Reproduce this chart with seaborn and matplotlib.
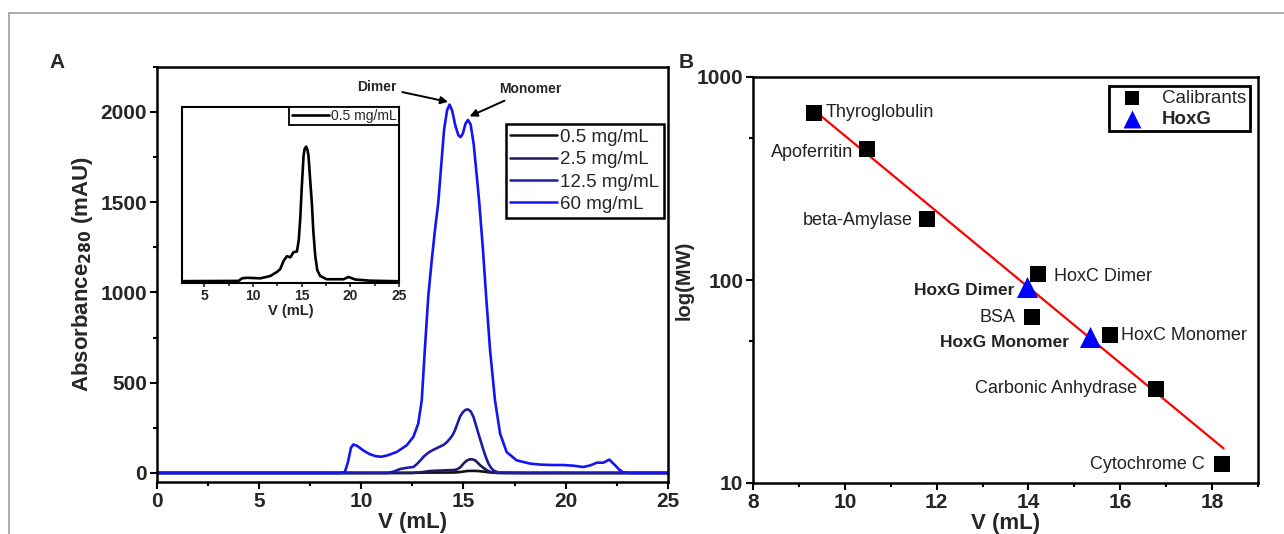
import numpy as np
import pandas as pd
import matplotlib
matplotlib.use("Agg")
import matplotlib.pyplot as plt
from matplotlib.lines import Line2D
from matplotlib.ticker import FixedLocator, MultipleLocator, NullFormatter
import seaborn as sns

sns.set_theme(style="ticks")
plt.rcParams['font.family'] = ['Liberation Sans', 'DejaVu Sans']

# ---- panel A: SEC chromatograms ----
v_60 = [0, 5, 9.0, 9.2, 9.35, 9.5, 9.62, 9.8, 10.1, 10.4, 10.7, 11.0, 11.3, 11.73, 12.22,
        12.55, 12.79, 12.96, 13.12, 13.28, 13.45, 13.6, 13.77, 13.93, 14.05, 14.2, 14.32,
        14.45, 14.6, 14.75, 14.86, 14.97, 15.1, 15.22, 15.35, 15.5, 15.62, 15.77, 15.95,
        16.1, 16.3, 16.54, 16.79, 17.11, 17.6, 18.25, 18.8, 19.4, 19.9, 20.4, 20.86, 21.2,
        21.52, 21.84, 22.13, 22.41, 22.6, 22.8, 23.2, 25]
a_60 = [0, 0, 0, 5, 60, 140, 158, 150, 125, 105, 93, 90, 98, 116, 153,
        200, 274, 403, 700, 980, 1180, 1340, 1500, 1730, 1900, 2010, 2040,
        2005, 1925, 1870, 1860, 1880, 1935, 1955, 1930, 1820, 1680, 1500, 1240,
        990, 680, 403, 218, 116, 70, 52, 46, 44, 44, 40, 33, 42,
        57, 57, 74, 43, 20, 4, 0, 0]

v_12 = [0, 5, 11.3, 11.6, 11.9, 12.3, 12.55, 12.71, 12.9, 13.04, 13.2, 13.36, 13.52, 13.69,
        13.85, 14.02, 14.18, 14.34, 14.47, 14.59, 14.71, 14.83, 14.96, 15.08, 15.16, 15.24,
        15.36, 15.49, 15.61, 15.73, 15.86, 15.98, 16.1, 16.22, 16.35, 16.47, 16.7, 18, 25]
a_12 = [0, 0, 0, 8, 22, 30, 33, 48, 70, 89, 105, 118, 128, 137,
        146, 155, 170, 190, 210, 238, 275, 312, 335, 348, 352, 351,
        340, 310, 265, 218, 170, 126, 86, 52, 28, 14, 2, 0, 0]

v_2 = [0, 5, 12.5, 13.0, 13.36, 13.8, 14.18, 14.5, 14.67, 14.85, 15.0, 15.15, 15.32, 15.45,
       15.57, 15.7, 15.81, 15.98, 16.14, 16.38, 16.7, 25]
a_2 = [0, 0, 0, 5, 11, 13, 15, 16, 19, 32, 52, 68, 76, 75,
       70, 56, 43, 28, 15, 3, 0, 0]

v_05 = [0, 8.5, 8.87, 9.38, 10.75, 11.78, 12.46, 12.8, 13.14, 13.48, 13.83, 14.17, 14.51,
        14.7, 14.85, 15.0, 15.19, 15.3, 15.46, 15.6, 15.7, 15.85, 16.04, 16.2, 16.39, 16.6,
        16.9, 17.58, 19.3, 19.8, 20.5, 22, 25]
a_05 = [0.05, 0.08, 0.3, 0.35, 0.3, 0.5, 0.85, 1.1, 1.8, 2.2, 2.1, 2.55, 2.6,
        3.6, 5.4, 8.0, 10.8, 11.4, 11.6, 11.3, 10.8, 9.0, 6.8, 4.3, 2.25, 1.0,
        0.5, 0.22, 0.22, 0.42, 0.2, 0.1, 0.05]

conc_labels = ['0.5 mg/mL', '2.5 mg/mL', '12.5 mg/mL', '60 mg/mL']
conc_colors = ['#111111', '#1c1c5e', '#1c1ca8', '#1414f5']

# ---- panel B: calibration ----
cal_names = ['Thyroglobulin', 'Apoferritin', 'beta-Amylase', 'HoxC Dimer', 'BSA',
             'HoxC Monomer', 'Carbonic Anhydrase', 'Cytochrome C']
cal_v = [9.33, 10.49, 11.79, 14.2, 14.08, 15.78, 16.78, 18.22]
cal_mw = [667, 443, 200, 107, 66, 53.6, 29, 12.4]
hoxg_names = ['HoxG Dimer', 'HoxG Monomer']
hoxg_v = [13.97, 15.34]
hoxg_mw = [92.7, 52.6]
fit_v = [9.35, 18.25]
fit_mw = [680, 14.8]

W, H = 1284, 534
fig = plt.figure(figsize=(W / 100, H / 100), dpi=100)


def px_axes(l, r, t, b):
    return fig.add_axes([l / W, (H - b) / H, (r - l) / W, (b - t) / H])


# outer gray frame
fig.add_artist(Line2D([9 / W, 1.0], [1 - 13 / H, 1 - 13 / H], color='#a0a0a0', lw=1.2))
fig.add_artist(Line2D([9 / W, 9 / W], [0, 1 - 13 / H], color='#a0a0a0', lw=1.2))

# ---------------- Panel A ----------------
ax = px_axes(156.7, 668, 66.7, 482)
frames = []
for lab, v, a in zip(conc_labels, [v_05, v_2, v_12, v_60], [a_05, a_2, a_12, a_60]):
    frames.append(pd.DataFrame({'V': v, 'A': a, 'conc': lab}))
df_a = pd.concat(frames, ignore_index=True)
sns.lineplot(data=df_a, x='V', y='A', hue='conc', hue_order=conc_labels,
             palette=conc_colors, sort=False, estimator=None, lw=1.9, ax=ax)
ax.set_xlim(0, 25)
ax.set_ylim(-50, 2250)
ax.xaxis.set_major_locator(MultipleLocator(5))
ax.xaxis.set_minor_locator(MultipleLocator(2.5))
ax.yaxis.set_major_locator(FixedLocator([0, 500, 1000, 1500, 2000]))
ax.yaxis.set_minor_locator(MultipleLocator(250))
ax.tick_params(which='both', direction='out', width=1.5, color='black')
ax.tick_params(which='major', length=5, pad=2)
ax.tick_params(which='minor', length=3)
for lbl in ax.get_xticklabels() + ax.get_yticklabels():
    lbl.set_fontsize(15)
    lbl.set_fontweight('bold')
for s in ax.spines.values():
    s.set_linewidth(1.8)
    s.set_color('black')
ax.set_xlabel('V (mL)', fontsize=16, fontweight='bold', labelpad=1)
ax.set_ylabel('Absorbance$_{\\mathbf{280}}$ (mAU)', fontsize=16, fontweight='bold', labelpad=4)
leg = ax.legend(loc='upper right', bbox_to_anchor=(0.992, 0.862), fontsize=13.5,
                frameon=True, fancybox=False, edgecolor='black', framealpha=1,
                handlelength=2.5, handletextpad=0.15, borderpad=0.25, labelspacing=0.28,
                borderaxespad=0)
leg.get_frame().set_linewidth(1.8)
for ln in leg.get_lines():
    ln.set_linewidth(1.8)

ax.annotate('Dimer', xy=(14.25, 2055), xytext=(10.75, 2140), fontsize=10, fontweight='bold',
            ha='center', va='center',
            arrowprops=dict(arrowstyle='-|>', color='black', lw=1.4, shrinkA=2, shrinkB=0,
                            mutation_scale=11))
ax.annotate('Monomer', xy=(15.3, 1975), xytext=(18.25, 2125), fontsize=10, fontweight='bold',
            ha='center', va='center',
            arrowprops=dict(arrowstyle='-|>', color='black', lw=1.4, shrinkA=2, shrinkB=0,
                            mutation_scale=11))

# inset
axi = px_axes(182, 399, 107, 283)
df_i = pd.DataFrame({'V': v_05, 'A': a_05, 'conc': '0.5 mg/mL'})
sns.lineplot(data=df_i, x='V', y='A', color='black', sort=False, estimator=None,
             lw=1.9, ax=axi, label='0.5 mg/mL')
axi.set_xlim(2.7, 25)
axi.set_ylim(-0.1, 15.0)
axi.set_yticks([])
axi.xaxis.set_major_locator(MultipleLocator(5))
axi.xaxis.set_minor_locator(MultipleLocator(2.5))
axi.tick_params(which='both', direction='out', width=1.2)
axi.tick_params(which='major', length=3, pad=1)
axi.tick_params(which='minor', length=2)
for lbl in axi.get_xticklabels():
    lbl.set_fontsize(10)
    lbl.set_fontweight('bold')
for s in axi.spines.values():
    s.set_linewidth(1.5)
    s.set_color('black')
axi.set_xlabel('V (mL)', fontsize=10.5, fontweight='bold', labelpad=1)
axi.set_ylabel('')
legi = axi.legend(loc='upper right', bbox_to_anchor=(1.0, 1.0), fontsize=10,
                  frameon=True, fancybox=False, edgecolor='black', framealpha=1,
                  handlelength=2.7, handletextpad=0.15, borderpad=0.15, borderaxespad=0)
legi.get_frame().set_linewidth(1.3)

fig.text(57 / W, 1 - 62 / H, 'A', fontsize=15, fontweight='bold', ha='center', va='center')
fig.text(686 / W, 1 - 62 / H, 'B', fontsize=15, fontweight='bold', ha='center', va='center')

# ---------------- Panel B ----------------
bx = px_axes(753, 1258, 77, 483)
bx.set_yscale('log')
sns.lineplot(x=fit_v, y=fit_mw, color='#ff0000', lw=1.6, ax=bx)
df_cal = pd.DataFrame({'V': cal_v, 'MW': cal_mw, 'kind': 'Calibrants'})
df_hox = pd.DataFrame({'V': hoxg_v, 'MW': hoxg_mw, 'kind': 'HoxG'})
sns.scatterplot(data=df_cal, x='V', y='MW', marker='s', s=135, color='black',
                edgecolor='black', linewidth=0, ax=bx, label='Calibrants', zorder=3)
sns.scatterplot(data=df_hox, x='V', y='MW', marker='^', s=230, color='#0000ff',
                edgecolor='#0000ff', linewidth=0, ax=bx, label='HoxG', zorder=4)
bx.set_xlim(8, 19)
bx.set_ylim(10, 1000)
bx.xaxis.set_major_locator(MultipleLocator(2))
bx.xaxis.set_minor_locator(MultipleLocator(1))
bx.yaxis.set_major_locator(FixedLocator([10, 100, 1000]))
bx.yaxis.set_minor_locator(FixedLocator([50, 500]))
bx.yaxis.set_minor_formatter(NullFormatter())
bx.set_yticklabels(['10', '100', '1000'])
bx.tick_params(which='both', direction='out', width=1.5, color='black')
bx.tick_params(which='major', length=5, pad=2)
bx.tick_params(which='minor', length=3)
for lbl in bx.get_xticklabels() + bx.get_yticklabels():
    lbl.set_fontsize(15)
    lbl.set_fontweight('bold')
for s in bx.spines.values():
    s.set_linewidth(1.8)
    s.set_color('black')
bx.set_xlabel('V (mL)', fontsize=16, fontweight='bold', labelpad=1)
bx.set_ylabel('log(MW)', fontsize=14.5, fontweight='bold', labelpad=2)

# point labels: (dx, dy, ha) in pixels
cal_offsets = [(12, 0, 'left'), (-14, -4, 'right'), (-14, -2, 'right'), (16, -2, 'left'),
               (-17, -1, 'right'), (11, -1, 'left'), (-19, 1, 'right'), (-17, 0, 'right')]
for name, v, mw, (dx, dy, ha) in zip(cal_names, cal_v, cal_mw, cal_offsets):
    bx.annotate(name, xy=(v, mw), xytext=(dx, dy), textcoords='offset pixels',
                ha=ha, va='center', fontsize=13, color='#222222')
hox_offsets = [(-13, -4), (-21, -6)]
for name, v, mw, (dx, dy) in zip(hoxg_names, hoxg_v, hoxg_mw, hox_offsets):
    bx.annotate(name, xy=(v, mw), xytext=(dx, dy), textcoords='offset pixels',
                ha='right', va='center', fontsize=12.5, fontweight='bold', color='#222222')

legb = bx.legend(loc='upper right', bbox_to_anchor=(0.984, 0.978), fontsize=13.5,
                 frameon=True, fancybox=False, edgecolor='black', framealpha=1,
                 handletextpad=0.6, borderpad=0.2, labelspacing=0.2, borderaxespad=0,
                 markerscale=0.85)
legb.get_frame().set_linewidth(2.0)
legb.get_texts()[1].set_fontweight('bold')

fig.savefig('out.png', dpi=100)
